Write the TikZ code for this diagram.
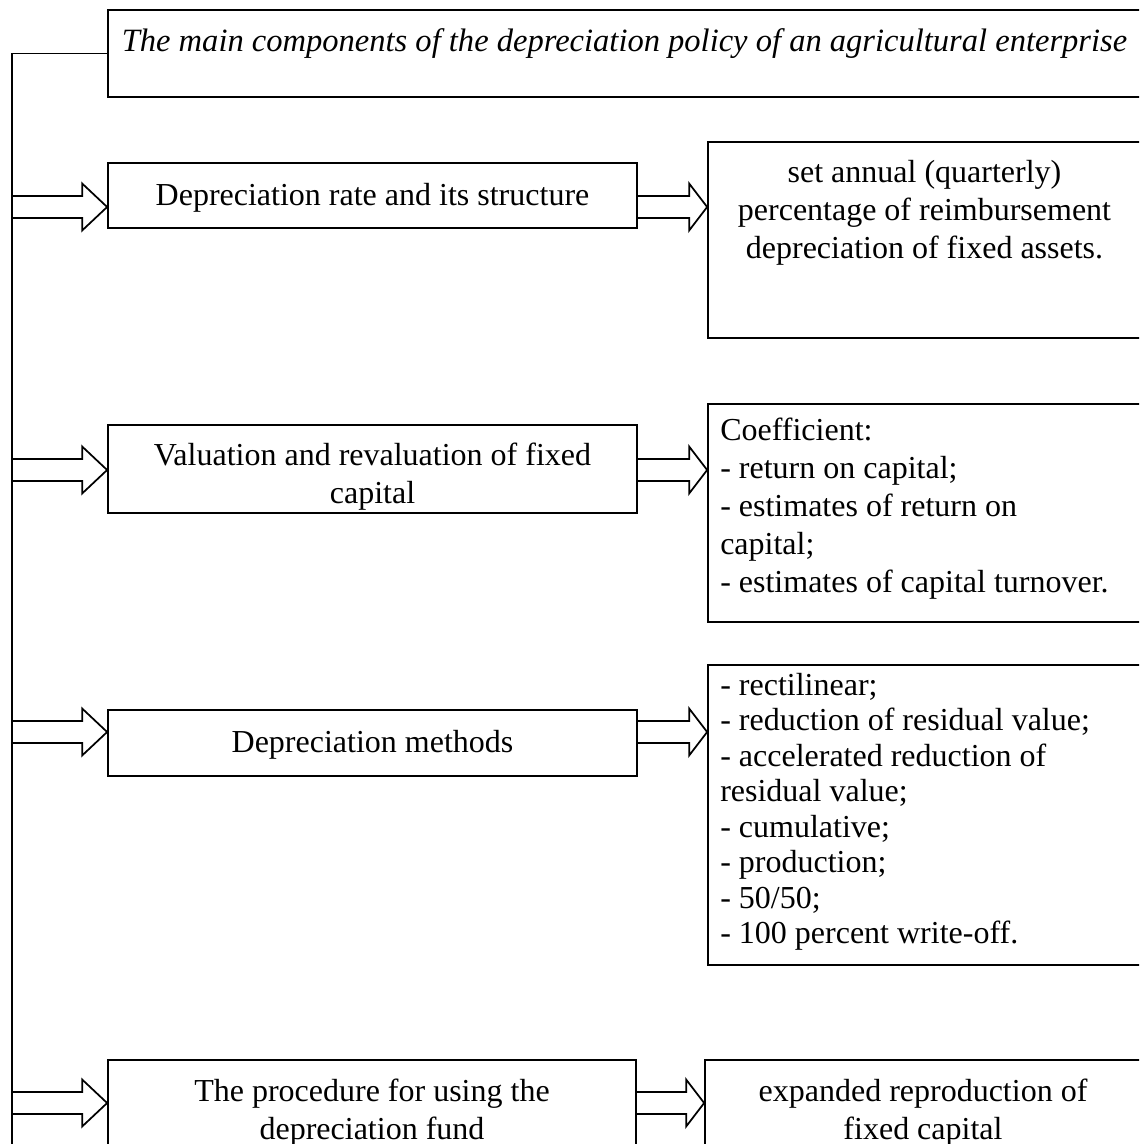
\documentclass[tikz,border=0pt]{standalone}
\usepackage{fontspec}
\setmainfont{Liberation Serif}
\usetikzlibrary{calc,fit}
% hollow block arrow from #1 to #2, head length #3
\newcommand\fatarrow[3]{%
  \draw[arr] ($(#1)+(0,11)$) -- ($(#2)+(-#3,11)$) -- ($(#2)+(-#3,23.5)$) -- (#2)
    -- ($(#2)+(-#3,-23.5)$) -- ($(#2)+(-#3,-11)$) -- ($(#1)+(0,-11)$);}
\begin{document}
\begin{tikzpicture}[x=0.75pt,y=-0.75pt,
  box/.style={draw, line width=1.3pt, inner sep=0pt},
  line/.style={draw, line width=1.3pt},
  arr/.style={draw, line width=1.3pt, line join=miter},
  txt/.style={inner sep=0pt, font=\fontsize{24}{28.5}\selectfont, execute at begin node=\strut},
  ctxt/.style={txt, align=center, anchor=north},
  ltxt/.style={txt, align=left, anchor=north west}]
\useasboundingbox (0,0) rectangle (1139,1144);
\clip (0,0) rectangle (1139,1144);

% frames
\node[box, fit={(108,10) (1141,97)}] (T) {};
\node[box, fit={(108,163) (637,228)}] (B1) {};
\node[box, fit={(708,142) (1141,338)}] (R1) {};
\node[box, fit={(108,425) (637,513)}] (B2) {};
\node[box, fit={(708,404) (1141,622)}] (R2) {};
\node[box, fit={(108,710) (637,776)}] (B3) {};
\node[box, fit={(708,665) (1141,965)}] (R3) {};
\node[box, fit={(108,1060) (636,1180)}] (B4) {};
\node[box, fit={(705,1060) (1141,1180)}] (R4) {};

% texts
\node[ctxt, font=\fontsize{24.4}{28.5}\selectfont] (tT) at (624.5,25) {\itshape The main components of the depreciation policy of an agricultural enterprise};
\node[ctxt] (t1) at (372.5,179) {Depreciation rate and its structure};
\node[ctxt] (u1) at (924.5,160) {set annual (quarterly)\\percentage of reimbursement\\depreciation of fixed assets.};
\begin{scope}
  \clip (B2.north west) rectangle (B2.south east);
  \node[ctxt] (t2) at (372.5,443) {Valuation and revaluation of fixed\\capital};
\end{scope}
\node[ltxt] (u2) at (720,418) {Coefficient:\\- return on capital;\\- estimates of return on\\capital;\\- estimates of capital turnover.};
\node[ctxt] (t3) at (372.5,726) {Depreciation methods};
\node[ltxt, font=\fontsize{24}{26.6}\selectfont] (u3) at (720,673) {- rectilinear;\\- reduction of residual value;\\- accelerated reduction of\\residual value;\\- cumulative;\\- production;\\- 50/50;\\- 100 percent write-off.};
\node[ctxt] (t4) at (372,1079) {The procedure for using the\\depreciation fund};
\node[ctxt] (u4) at (923,1079) {expanded reproduction of\\fixed capital};

% spine
\coordinate (sp) at (12,53.5);
\coordinate (spb) at (12,1160);
\draw[line] (T.west) -- (sp) -- (spb);

% arrow levels
\coordinate (lv1) at (0,207);
\coordinate (lv2) at (0,470);
\coordinate (lv3) at (0,732);
\coordinate (lv4) at (0,1103);

\foreach \i in {1,2,3,4} {
  \coordinate (a\i) at (sp |- lv\i);
  \coordinate (b\i) at (B\i.west |- lv\i);
  \coordinate (c\i) at (B\i.east |- lv\i);
  \coordinate (d\i) at (R\i.west |- lv\i);
  \fatarrow{a\i}{b\i}{25}
  \fatarrow{c\i}{d\i}{18}
}
\end{tikzpicture}
\end{document}
